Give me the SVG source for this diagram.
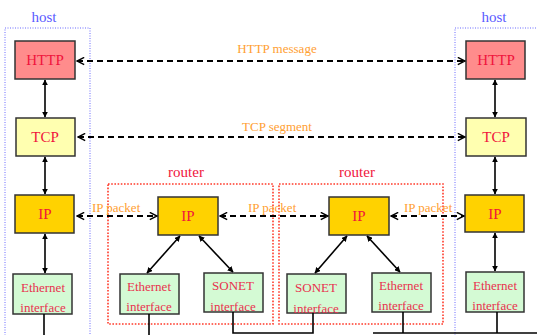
<svg xmlns="http://www.w3.org/2000/svg" width="537" height="335" viewBox="0 0 537 335">
<defs>
<marker id="tri" viewBox="0 0 10 10" refX="9" refY="5" markerWidth="6" markerHeight="6" markerUnits="userSpaceOnUse" orient="auto-start-reverse"><path d="M0,0 L10,5 L0,10 z" fill="#000"/></marker>
<marker id="chev" viewBox="0 0 10 10" refX="9" refY="5" markerWidth="9" markerHeight="9" markerUnits="userSpaceOnUse" orient="auto-start-reverse"><path d="M1,1 L9,5 L1,9" fill="none" stroke="#000" stroke-width="1.6"/></marker>
<style>
.host{fill:none;stroke:#6a6aff;stroke-width:1;stroke-dasharray:1 1.5}
.router{fill:none;stroke:#ff3a2a;stroke-width:1.6;stroke-dasharray:1.6 1.6}
.box{stroke:#333;stroke-width:1.5}
.http{fill:#ff8c8c}.tcp{fill:#ffffb0}.ip{fill:#ffd200}.eth{fill:#d4fad4}
.t{font-family:"Liberation Serif",serif;font-size:15px;fill:#f0143c;text-anchor:middle}
.ti{font-family:"Liberation Serif",serif;font-size:13px;fill:#e8324e;text-anchor:middle}
.hl{font-family:"Liberation Serif",serif;font-size:15px;fill:#5a5aff;text-anchor:middle}
.rl{font-family:"Liberation Serif",serif;font-size:15px;fill:#f0143c;text-anchor:middle}
.ol{font-family:"Liberation Serif",serif;font-size:13px;fill:#ffa033}
.solid{stroke:#000;stroke-width:1.6;fill:none}
.arr{stroke:#000;stroke-width:1.6;fill:none;marker-start:url(#tri);marker-end:url(#tri)}
.dash{stroke:#000;stroke-width:1.8;fill:none;stroke-dasharray:6 4;marker-start:url(#chev);marker-end:url(#chev)}
</style>
</defs>
<g id="host-left">
<rect class="host" x="5" y="28" width="85" height="320"/>
<text class="hl" x="44" y="22">host</text>
</g>
<g id="host-right">
<rect class="host" x="455" y="28" width="100" height="320"/>
<text class="hl" x="494" y="22">host</text>
</g>
<g id="router-1">
<rect class="router" x="108" y="184" width="165" height="140"/>
<text class="rl" x="186" y="177">router</text>
</g>
<g id="router-2">
<rect class="router" x="279" y="184" width="164" height="140"/>
<text class="rl" x="357" y="177">router</text>
</g>
<g id="http-left"><rect class="box http" x="15" y="41" width="60" height="38"/><text class="t" x="45" y="65">HTTP</text></g>
<g id="tcp-left"><rect class="box tcp" x="16" y="118" width="59" height="38"/><text class="t" x="45" y="142">TCP</text></g>
<g id="ip-left"><rect class="box ip" x="15" y="195" width="59" height="38"/><text class="t" x="45" y="219">IP</text></g>
<g id="eth-left"><rect class="box eth" x="13" y="274" width="59" height="40"/><text class="ti" x="43" y="292">Ethernet</text><text class="ti" x="43" y="312">interface</text></g>
<g id="http-right"><rect class="box http" x="466" y="41" width="59" height="38"/><text class="t" x="496" y="65">HTTP</text></g>
<g id="tcp-right"><rect class="box tcp" x="466" y="118" width="60" height="38"/><text class="t" x="496" y="142">TCP</text></g>
<g id="ip-right"><rect class="box ip" x="465" y="195" width="59" height="37"/><text class="t" x="495" y="219">IP</text></g>
<g id="eth-right"><rect class="box eth" x="466" y="272" width="58" height="40"/><text class="ti" x="495" y="290">Ethernet</text><text class="ti" x="495" y="310">interface</text></g>
<g id="ip-r1"><rect class="box ip" x="158" y="197" width="60" height="38"/><text class="t" x="188" y="221">IP</text></g>
<g id="eth-r1"><rect class="box eth" x="120" y="274" width="59" height="40"/><text class="ti" x="149" y="291">Ethernet</text><text class="ti" x="149" y="311">interface</text></g>
<g id="sonet-r1"><rect class="box eth" x="204" y="273" width="59" height="39"/><text class="ti" x="233" y="290">SONET</text><text class="ti" x="233" y="311">interface</text></g>
<g id="ip-r2"><rect class="box ip" x="329" y="197" width="60" height="38"/><text class="t" x="359" y="221">IP</text></g>
<g id="sonet-r2"><rect class="box eth" x="287" y="274" width="59" height="39"/><text class="ti" x="316" y="292">SONET</text><text class="ti" x="316" y="313">interface</text></g>
<g id="eth-r2"><rect class="box eth" x="372" y="273" width="59" height="39"/><text class="ti" x="401" y="290">Ethernet</text><text class="ti" x="401" y="310">interface</text></g>
<g id="connectors">
<line class="arr" x1="45" y1="80" x2="45" y2="117"/>
<line class="arr" x1="45" y1="157" x2="45" y2="194"/>
<line class="arr" x1="45" y1="234" x2="45" y2="273"/>
<line class="arr" x1="495" y1="80" x2="495" y2="117"/>
<line class="arr" x1="495" y1="157" x2="495" y2="194"/>
<line class="arr" x1="495" y1="233" x2="495" y2="271"/>
<line class="arr" x1="180" y1="236" x2="147" y2="273"/>
<line class="arr" x1="199" y1="236" x2="233" y2="272"/>
<line class="arr" x1="347" y1="236" x2="315" y2="273"/>
<line class="arr" x1="367" y1="236" x2="400" y2="272"/>
<line class="dash" x1="77" y1="61" x2="465" y2="61"/>
<line class="dash" x1="78" y1="137" x2="465" y2="137"/>
<line class="dash" x1="77" y1="216" x2="157" y2="216"/>
<line class="dash" x1="220" y1="216" x2="328" y2="216"/>
<line class="dash" x1="391" y1="216" x2="464" y2="216"/>
<polyline class="solid" points="44,314 44,335"/>
<polyline class="solid" points="149,314 149,335"/>
<polyline class="solid" points="233,312 233,333 313,333 313,313"/>
<polyline class="solid" points="403,312 403,333"/>
<polyline class="solid" points="373,333 537,333"/>
<polyline class="solid" points="497,312 497,333"/>
<text class="ol" x="277" y="53" text-anchor="middle">HTTP message</text>
<text class="ol" x="277" y="131" text-anchor="middle">TCP segment</text>
<text class="ol" x="92" y="212">IP packet</text>
<text class="ol" x="248" y="212">IP packet</text>
<text class="ol" x="404" y="212">IP packet</text>
</g>
</svg>
